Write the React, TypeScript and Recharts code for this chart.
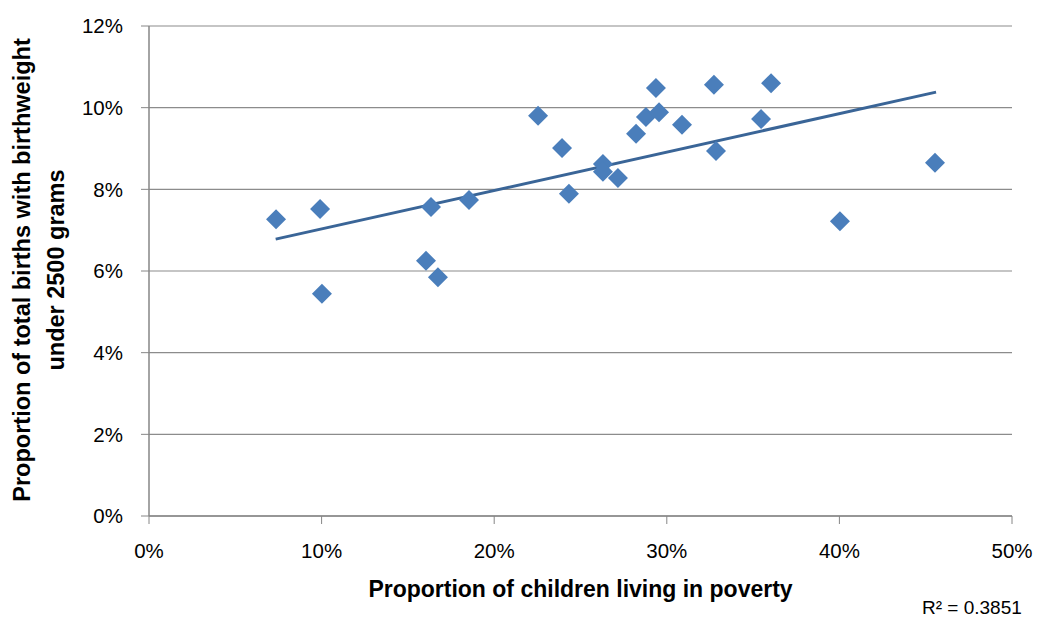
import React from 'react';
import { ScatterChart, Scatter, XAxis, YAxis, CartesianGrid, ReferenceLine, Label } from 'recharts';

const povertyPct = [7.36, 9.91, 10.02, 16.05, 16.34, 16.74, 18.54, 22.54, 23.93, 24.33, 26.3, 26.3, 27.17, 28.22, 28.79, 29.37, 29.55, 30.88, 32.73, 32.85, 35.46, 36.04, 40.03, 45.54];
const lowBirthPct = [7.27, 7.52, 5.44, 6.25, 7.57, 5.85, 7.74, 9.8, 9.01, 7.89, 8.62, 8.43, 8.28, 9.36, 9.77, 10.48, 9.89, 9.58, 10.56, 8.94, 9.72, 10.6, 7.22, 8.65];
const trendX = [7.34, 45.6];
const trendY = [6.78, 10.38];
const xTicks = [0, 10, 20, 30, 40, 50];
const yTicks = [0, 2, 4, 6, 8, 10, 12];
const xTitle = 'Proportion of children living in poverty';
const yTitleLines = ['Proportion of total births with birthweight', 'under 2500 grams'];
const rSquared = 'R² = 0.3851';

const points = povertyPct.map((x, i) => ({ x, y: lowBirthPct[i] }));
const trendSegment = trendX.map((x, i) => ({ x, y: trendY[i] }));

const FONT = '"Liberation Sans", Arial, sans-serif';
const AXIS = '#868686';

const Diamond = (props: any) => {
  const { cx, cy } = props;
  const r = 10;
  return (
    <polygon
      points={`${cx},${cy - r} ${cx + r},${cy} ${cx},${cy + r} ${cx - r},${cy}`}
      fill="#4a7ebb"
    />
  );
};

export default function App() {
  return (
    <div style={{ position: 'absolute', left: 0, top: 0, width: 1043, height: 620, overflow: 'hidden', background: '#fff' }}>
      <ScatterChart width={1043} height={620} margin={{ top: 26, right: 31, bottom: 0, left: 0 }}>
        <CartesianGrid vertical={false} stroke="#8c8c8c" strokeWidth={1.2} />
        <XAxis
          type="number"
          dataKey="x"
          domain={[0, 50]}
          ticks={xTicks}
          tickFormatter={(v: number) => `${v}%`}
          height={104}
          stroke={AXIS}
          tickSize={8}
          tickMargin={19}
          tick={{ fill: '#000', fontSize: 20.5, fontFamily: FONT }}
          axisLine={{ stroke: AXIS, strokeWidth: 1.5 }}
          tickLine={{ stroke: AXIS }}
        >
          <Label
            value={xTitle}
            position="insideBottom"
            offset={23}
            style={{ fontSize: 23, fontWeight: 700, fontFamily: FONT, fill: '#000' }}
          />
        </XAxis>
        <YAxis
          type="number"
          dataKey="y"
          domain={[0, 12]}
          ticks={yTicks}
          tickFormatter={(v: number) => `${v}%`}
          width={149}
          stroke={AXIS}
          tickSize={8}
          tickMargin={18}
          tick={{ fill: '#000', fontSize: 20.5, fontFamily: FONT }}
          axisLine={{ stroke: AXIS, strokeWidth: 1.5 }}
          tickLine={{ stroke: AXIS }}
        >
          <Label
            content={() => (
              <text
                transform="translate(30, 270) rotate(-90)"
                textAnchor="middle"
                style={{ fontSize: 23.5, fontWeight: 700, fontFamily: FONT, fill: '#000' }}
              >
                <tspan x={0} y={0}>{yTitleLines[0]}</tspan>
                <tspan x={0} dy={34}>{yTitleLines[1]}</tspan>
              </text>
            )}
          />
        </YAxis>
        <ReferenceLine segment={trendSegment} stroke="#3a6597" strokeWidth={3} />
        <Scatter data={points} shape={Diamond} isAnimationActive={false} />
      </ScatterChart>
      <div
        style={{
          position: 'absolute',
          left: 922,
          top: 598,
          fontSize: 19,
          fontFamily: FONT,
          color: '#000',
          whiteSpace: 'nowrap',
          lineHeight: '20px',
        }}
      >
        {rSquared}
      </div>
    </div>
  );
}
